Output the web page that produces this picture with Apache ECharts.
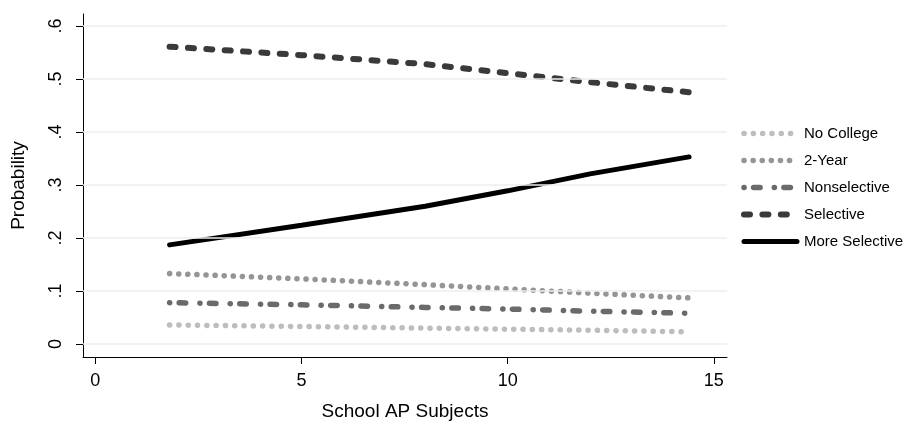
<!DOCTYPE html>
<html>
<head>
<meta charset="utf-8">
<script src="https://cdn.jsdelivr.net/npm/echarts@6/dist/echarts.min.js"></script>
<style>
  html, body { margin: 0; padding: 0; background: #fff; }
  #chart { width: 911px; height: 429px; }
</style>
</head>
<body>
<div id="chart"></div>
<script>
// values
var apSubjects   = [1.8, 5, 8, 10, 12, 14.4];
var noCollege    = [0.036, 0.033, 0.030, 0.028, 0.026, 0.023];
var twoYear      = [0.133, 0.123, 0.112, 0.104, 0.096, 0.087];
var nonselective = [0.078, 0.074, 0.069, 0.066, 0.062, 0.058];
var selective    = [0.561, 0.545, 0.528, 0.511, 0.494, 0.475];
var moreSelective = [0.187, 0.224, 0.260, 0.289, 0.321, 0.353];

var xTicks = [0, 5, 10, 15];
var yTicks = [0, 0.1, 0.2, 0.3, 0.4, 0.5, 0.6];

var font = '"Liberation Sans", Arial, sans-serif';

function pairs(ys) {
  return apSubjects.map(function (x, i) { return [x, ys[i]]; });
}

function line(name, ys, color, width, dash) {
  return {
    name: name,
    type: 'line',
    data: pairs(ys),
    symbol: 'none',
    showSymbol: false,
    silent: true,
    lineStyle: { color: color, width: width, type: dash, cap: 'round' },
    itemStyle: { color: color }
  };
}

var chart = echarts.init(document.getElementById('chart'));
chart.setOption({
  animation: false,
  backgroundColor: '#fff',
  grid: { left: 83, right: 184, top: 14, bottom: 72 },
  legend: {
    orient: 'vertical',
    left: 736,
    top: 121,
    itemWidth: 53,
    itemHeight: 14,
    itemGap: 12,
    itemStyle: { opacity: 0, borderWidth: 0 },
    lineStyle: { width: 'inherit', type: 'inherit', cap: 'inherit' },
    textStyle: { fontFamily: font, fontSize: 15, color: '#000', padding: [0, 0, 0, 2] },
    data: ['No College', '2-Year', 'Nonselective', 'Selective', 'More Selective']
  },
  xAxis: {
    type: 'value',
    min: -0.3,
    max: 15.32,
    name: 'School AP Subjects',
    nameLocation: 'middle',
    nameGap: 45,
    nameTextStyle: { fontFamily: font, fontSize: 19, color: '#000' },
    axisLine: { show: true, onZero: false, lineStyle: { color: '#000', width: 1 } },
    axisTick: { show: true, length: 7, customValues: xTicks, lineStyle: { color: '#000' } },
    axisLabel: { customValues: xTicks, margin: 15, fontFamily: font, fontSize: 18, color: '#000' },
    splitLine: { show: false }
  },
  yAxis: {
    type: 'value',
    min: -0.0245,
    max: 0.6226,
    name: 'Probability',
    nameLocation: 'middle',
    nameGap: 55,
    nameTextStyle: { fontFamily: font, fontSize: 19, color: '#000' },
    axisLine: { show: true, onZero: false, lineStyle: { color: '#000', width: 1 } },
    axisTick: { show: true, length: 7, customValues: yTicks, lineStyle: { color: '#000' } },
    axisLabel: {
      customValues: yTicks,
      rotate: 90,
      margin: 18,
      fontFamily: font,
      fontSize: 18,
      color: '#000',
      formatter: function (v) { return v === 0 ? '0' : String(v).replace('0.', '.'); }
    },
    splitLine: { show: false }
  },
  series: [
    line('No College', noCollege, '#bdbdbd', 5.5, [0.1, 9.2]),
    line('2-Year', twoYear, '#959595', 5.5, [0.1, 9]),
    line('Nonselective', nonselective, '#6a6a6a', 5.5, [0.1, 9.5, 6.5, 14.2]),
    line('Selective', selective, '#3a3a3a', 6, [6, 12.4]),
    line('More Selective', moreSelective, '#000', 5, 'solid'),
    {
      // horizontal grid lines at the tick values
      type: 'line',
      silent: true,
      data: [],
      markLine: {
        silent: true,
        symbol: 'none',
        label: { show: false },
        lineStyle: { color: '#e8f0f2', width: 1.5, type: 'solid' },
        data: yTicks.map(function (v) { return { yAxis: v }; })
      },
      z: 1
    }
  ]
});
</script>
</body>
</html>
